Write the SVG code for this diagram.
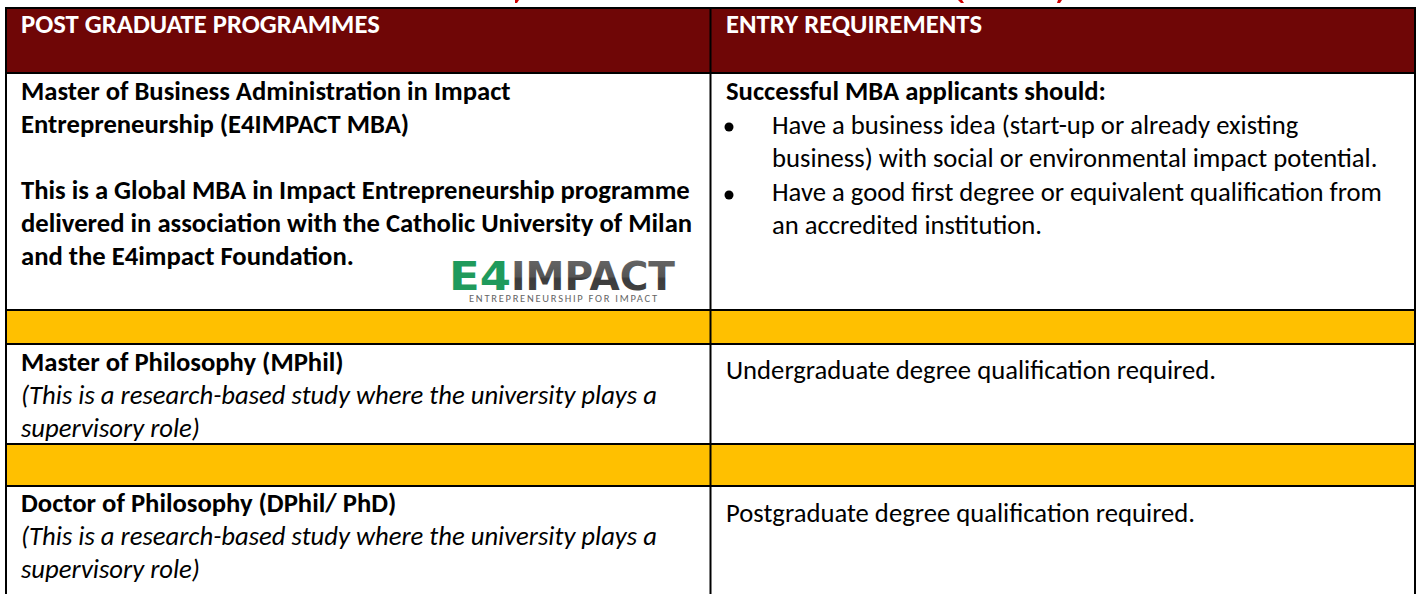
<svg xmlns="http://www.w3.org/2000/svg" width="1421" height="594" viewBox="0 0 1421 594">
<defs><linearGradient id="gy" x1="0" y1="0" x2="0" y2="1"><stop offset="0" stop-color="#6a6a6a"/><stop offset="0.5" stop-color="#555"/><stop offset="0.55" stop-color="#3c3c3c"/><stop offset="1" stop-color="#444"/></linearGradient></defs>
<style>
text{font-family:Carlito,"Liberation Sans","Open Sans",sans-serif;font-size:26.67px;fill:#000}
.b{font-weight:700}.i{font-style:italic}.w{fill:#fff;font-weight:700}
.l{stroke:#000;stroke-width:2;fill:none}
.r{fill:#d00000}
.logo{font-family:"DejaVu Sans",sans-serif;font-weight:700;font-size:38.500px}
</style>
<rect width="1421" height="594" fill="#fff"/>
<path class="r" d="M515 0H519L517 3H515ZM958 0H962L964 3H961ZM1058 0H1062L1060 3H1057Z"/>
<rect x="6" y="8" width="1409" height="65" fill="#6f0606"/>
<rect x="6" y="311" width="1409" height="33" fill="#ffc000"/>
<rect x="6" y="444" width="1409" height="42" fill="#ffc000"/>
<g id="grid">
<path class="l" d="M5 8H1416M5 73H1416M5 310H1416M5 344H1416M5 444H1416M5 486H1416M6 7V594M710.500 7V594M1415 7V594"/>
</g>
<g id="node-header"><text class="w" x="21" y="33">POST GRADUATE PROGRAMMES</text><text class="w" x="726" y="33">ENTRY REQUIREMENTS</text></g>
<g id="node-mba"><text class="b" x="21" y="100">Master of Business Administration in Impact</text><text class="b" x="21" y="133">Entrepreneurship (E4IMPACT MBA)</text><text class="b" x="21" y="199">This is a Global MBA in Impact Entrepreneurship programme</text><text class="b" x="21" y="232">delivered in association with the Catholic University of Milan</text><text class="b" x="21" y="265">and the E4impact Foundation.</text></g>
<g id="node-logo"><text class="logo" x="449" y="290" textLength="62" lengthAdjust="spacingAndGlyphs" style="fill:#1f9a5c">E4</text><text class="logo" x="511" y="290" textLength="164" lengthAdjust="spacingAndGlyphs" style="fill:url(#gy)">IMPACT</text><text x="469" y="302" textLength="188" style="font-size:10.500px;fill:#666">ENTREPRENEURSHIP FOR IMPACT</text></g>
<g id="node-mba-req"><text class="b" x="726" y="100">Successful MBA applicants should:</text><circle cx="729" cy="127" r="4.500"/><circle cx="729" cy="195" r="4.500"/><text x="772" y="134">Have a business idea (start-up or already existing</text><text x="772" y="167">business) with social or environmental impact potential.</text><text x="772" y="201">Have a good first degree or equivalent qualification from</text><text x="772" y="234">an accredited institution.</text></g>
<g id="node-mphil"><text class="b" x="21" y="371">Master of Philosophy (MPhil)</text><text class="i" x="21" y="404">(This is a research-based study where the university plays a</text><text class="i" x="21" y="437">supervisory role)</text><text x="726" y="379">Undergraduate degree qualification required.</text></g>
<g id="node-phd"><text class="b" x="21" y="512">Doctor of Philosophy (DPhil/ PhD)</text><text class="i" x="21" y="545">(This is a research-based study where the university plays a</text><text class="i" x="21" y="578">supervisory role)</text><text x="726" y="522">Postgraduate degree qualification required.</text></g>
</svg>
